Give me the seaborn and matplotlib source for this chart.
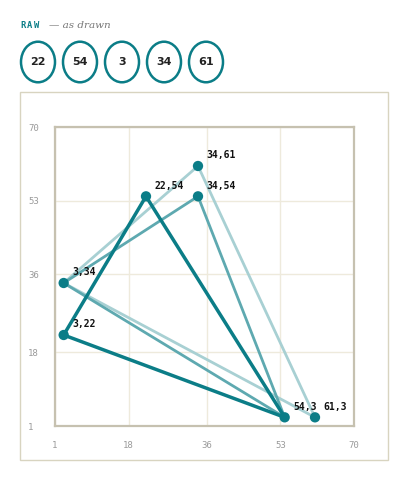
import matplotlib
matplotlib.use("Agg")
import matplotlib.pyplot as plt
import seaborn as sns
import pandas as pd
from matplotlib.patches import Rectangle, Circle

# ---- data ----
raw_values = [22, 54, 3, 34, 61]
tri_dark_x = [3, 22, 54, 3]
tri_dark_y = [22, 54, 3, 22]
tri_mid_x = [3, 34, 54, 3]
tri_mid_y = [34, 54, 3, 34]
tri_light_x = [3, 34, 61, 3]
tri_light_y = [34, 61, 3, 34]
pts_x = [22, 34, 34, 3, 3, 54, 61]
pts_y = [54, 61, 54, 34, 22, 3, 3]
ticks = [1, 18, 36, 53, 70]

TEAL = "#0b7d87"
MID = "#5ea9b0"
LIGHT = "#a8d0d3"
W, H = 409, 488

sns.set_theme(style="white")
plt.rcParams['font.family'] = ['DejaVu Sans']

fig = plt.figure(figsize=(W / 100, H / 100), dpi=100)

def fx(px):
    return px / W

def fy(py):
    return 1 - py / H

# outer panel
fig.patches.append(Rectangle((fx(20), fy(460)), fx(368), 368 / H,
                             transform=fig.transFigure, fill=False,
                             edgecolor="#d8d4c0", linewidth=1.0, zorder=0))

# header
for i, ch in enumerate("RAW"):
    fig.text(fx(20 + i * 7), fy(25), ch, color=TEAL, fontsize=6.3, fontweight="bold",
             family="DejaVu Sans Mono", va="center", ha="left")
fig.text(fx(49), fy(25), "— as drawn", color="#777777", fontsize=7.5,
         style="italic", family="DejaVu Serif", va="center", ha="left")
for i, v in enumerate(raw_values):
    cx, cy = 38 + i * 42, 62
    fig.patches.append(Circle((fx(cx), fy(cy)), 17 / W, transform=fig.transFigure,
                              fill=False, edgecolor=TEAL, linewidth=1.8))
    fig.text(fx(cx), fy(cy), str(v), ha="center", va="center", fontsize=8,
             fontweight="bold", color="#222222")

ax = fig.add_axes([fx(55), fy(426), 299 / W, 299 / H])

for xs, ys, col, lw in [(tri_light_x, tri_light_y, LIGHT, 2.0),
                        (tri_mid_x, tri_mid_y, MID, 2.0),
                        (tri_dark_x, tri_dark_y, TEAL, 2.5)]:
    df = pd.DataFrame({"x": xs, "y": ys})
    sns.lineplot(data=df, x="x", y="y", sort=False, estimator=None, ax=ax,
                 color=col, linewidth=lw, zorder=2)

pts = pd.DataFrame({"x": pts_x, "y": pts_y})
sns.scatterplot(data=pts, x="x", y="y", ax=ax, color=TEAL, s=55,
                edgecolor="none", zorder=3)
for x, y in zip(pts_x, pts_y):
    ax.annotate(f"{x},{y}", (x, y), xytext=(6, 4), textcoords="offset points",
                ha="left", va="bottom", fontsize=7, fontweight="bold",
                family="DejaVu Sans Mono", color="#111111", zorder=4)

ax.set_xlim(1, 70)
ax.set_ylim(1, 70)
ax.set_xticks(ticks)
ax.set_yticks(ticks)
ax.set_xticklabels([str(t) for t in ticks], family="DejaVu Sans Mono",
                   fontsize=6.5, color="#9a9a9a")
ax.set_yticklabels([str(t) for t in ticks], family="DejaVu Sans Mono",
                   fontsize=6.5, color="#9a9a9a", ha="left")
ax.tick_params(axis="x", length=0, pad=11)
ax.tick_params(axis="y", length=0, pad=19.4)
ax.grid(True, color="#eeeadc", linewidth=1.0)
ax.set_axisbelow(True)
ax.set_xlabel("")
ax.set_ylabel("")
for s in ax.spines.values():
    s.set_visible(True)
    s.set_color("#c6c1b0")
    s.set_linewidth(1.6)

fig.savefig("out.png", dpi=100)
